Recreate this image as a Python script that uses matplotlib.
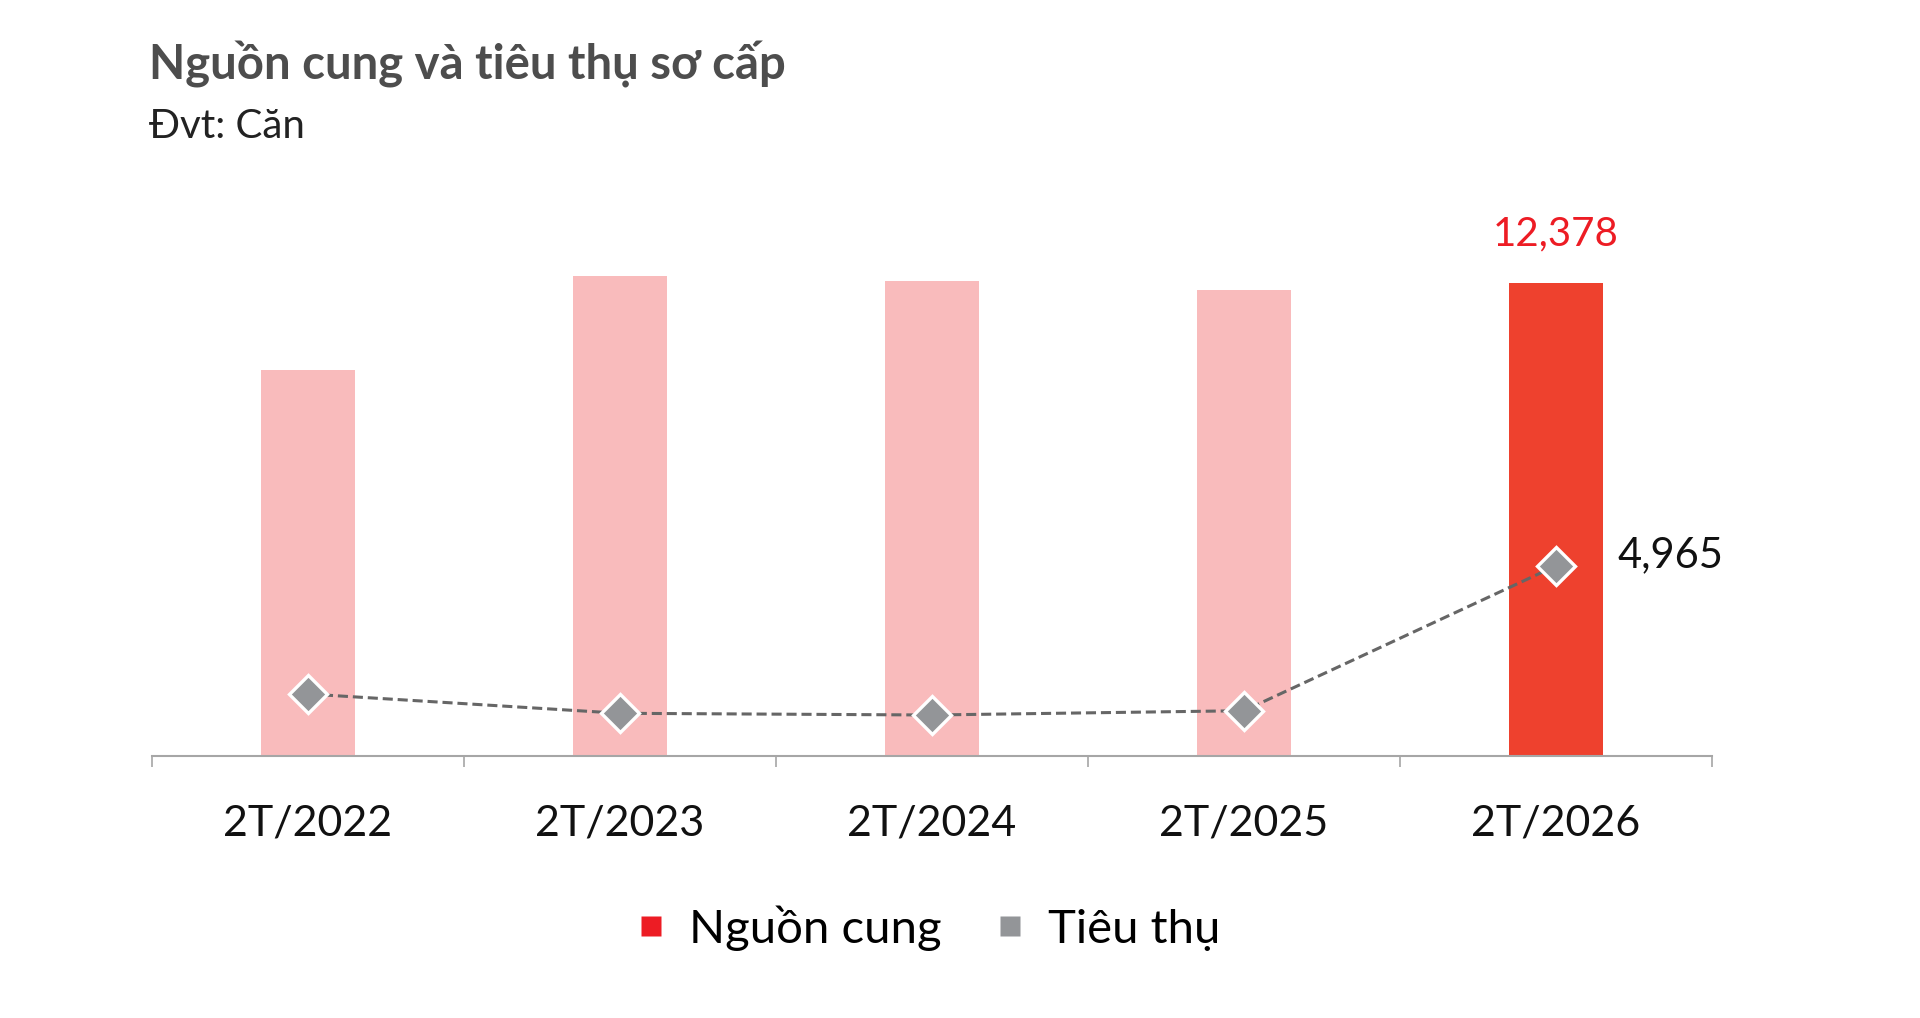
import matplotlib
matplotlib.use("Agg")
import matplotlib.pyplot as plt
from matplotlib.lines import Line2D

plt.rcParams['font.family'] = ['Lato', 'DejaVu Sans']

categories = ['2T/2022', '2T/2023', '2T/2024', '2T/2025', '2T/2026']
supply = [10090, 12550, 12420, 12180, 12378]
absorption = [1610, 1105, 1060, 1173, 4965]
series_names = ['Nguồn cung', 'Tiêu thụ']
title = 'Nguồn cung và tiêu thụ sơ cấp'
subtitle = 'Đvt: Căn'

light_red = '#f9bbbc'
strong_red = '#ee412e'
label_red = '#ed1c24'
gray = '#939598'

fig = plt.figure(figsize=(19.2, 10.18), dpi=100)
ax = fig.add_axes([152 / 1920, 262.5 / 1018, 1560 / 1920, 573 / 1018])

x = list(range(len(categories)))
bar_colors = [light_red] * (len(categories) - 1) + [strong_red]
ax.bar(x, supply, width=0.3, color=bar_colors, zorder=1)
ax.plot(x, absorption, linestyle=(0, (3.3, 1.6)), color='#666666', linewidth=2.2,
        marker='D', markersize=19, markerfacecolor=gray, markeredgecolor='white',
        markeredgewidth=2.4, zorder=3)

ax.set_xlim(-0.5, len(categories) - 0.5)
ax.set_ylim(0, 15000)
for s in ['top', 'right', 'left']:
    ax.spines[s].set_visible(False)
ax.spines['bottom'].set_color('#a6a6a6')
ax.spines['bottom'].set_linewidth(1.5)
ax.set_yticks([])
ax.set_xticks(x)
ax.set_xticklabels(categories, fontsize=31, color='#111111')
ax.tick_params(axis='x', which='major', length=0, pad=35)
ax.set_xticks([i - 0.5 for i in range(len(categories) + 1)], minor=True)
ax.tick_params(axis='x', which='minor', length=8, width=1.2, color='#a6a6a6', direction='out')

ax.annotate(f'{supply[-1]:,}', xy=(x[-1], supply[-1]), xytext=(0, 27),
            textcoords='offset points', ha='center', va='baseline',
            fontsize=29, color=label_red)
ax.annotate(f'{absorption[-1]:,}', xy=(x[-1], absorption[-1]), xytext=(44, 8),
            textcoords='offset points', ha='left', va='center',
            fontsize=30, color='#111111')

fig.text(149 / 1920, 1 - 64 / 1018, title, fontsize=34, fontweight='bold',
         color='#4d4d4d', ha='left', va='center')
fig.text(149 / 1920, 1 - 126 / 1018, subtitle, fontsize=29, color='#222222',
         ha='left', va='center')

handles = [Line2D([], [], linestyle='none', marker='s', markersize=15,
                  markerfacecolor=label_red, markeredgecolor='none'),
           Line2D([], [], linestyle='none', marker='s', markersize=15,
                  markerfacecolor=gray, markeredgecolor='none')]
fig.legend(handles, series_names, loc='center', bbox_to_anchor=(929.5 / 1920, 1 - 928 / 1018),
           ncol=2, frameon=False, fontsize=34, handlelength=0.5,
           handletextpad=0.55, columnspacing=1.2)

fig.savefig('out.png', dpi=100)
